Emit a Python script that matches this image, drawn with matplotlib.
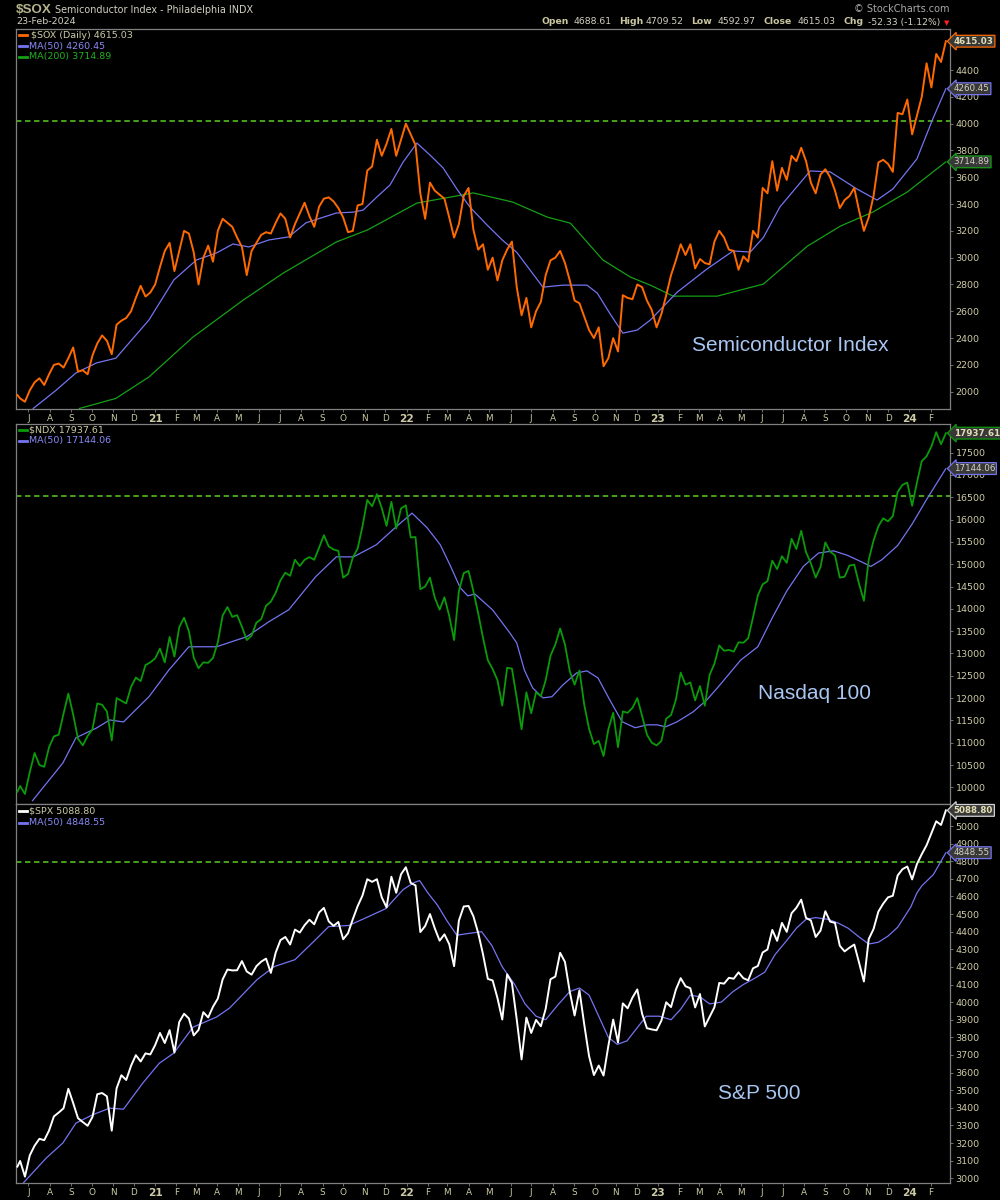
"""
StockCharts-style three-panel chart: $SOX, $NDX, $SPX with moving averages.
Weekly closes read off the reference picture, MAs read as separate points.
"""

import pandas as pd
import matplotlib
matplotlib.use('Agg')
import matplotlib.pyplot as plt
from matplotlib import rcParams

rcParams['font.family'] = 'DejaVu Sans'

TXT      = '#cdcba6'
AXC      = '#808080'
ORANGE   = '#ff6a00'
BLUE     = '#7474f2'
GREEN_MA = '#16a016'
NDX_COL  = '#0a9a0a'
DASH     = '#4cb01c'
LBL_BLUE = '#a9c6f2'

# ── Data ──────────────────────────────────────────────────────────────────────
week_dates = pd.DatetimeIndex(['2020-06-15']).append(
    pd.date_range('2020-06-19', '2024-02-23', freq='W-FRI'))

sox = [1975,
       1950, 1925, 2010, 2070, 2100, 2050, 2130, 2200, 2210, 2180,
       2250, 2330, 2150, 2160, 2130, 2270, 2360, 2420, 2380, 2280,
       2500, 2530, 2550, 2600, 2700, 2790, 2710, 2740, 2800, 2930,
       3050, 3110, 2900, 3050, 3200, 3180, 3040, 2800, 3000, 3090,
       2970, 3200, 3290, 3260, 3230, 3150, 3080, 2870, 3050, 3110,
       3170, 3190, 3180, 3260, 3330, 3290, 3150, 3250, 3330, 3410,
       3310, 3230, 3380, 3440, 3450, 3420, 3370, 3300, 3190, 3200,
       3390, 3400, 3650, 3680, 3880, 3760, 3850, 3960, 3760, 3880,
       4000, 3920, 3840, 3480, 3290, 3560, 3500, 3470, 3440, 3300,
       3150, 3250, 3460, 3520, 3210, 3060, 3100, 2910, 3000, 2830,
       2980, 3060, 3120, 2780, 2570, 2700, 2480, 2600, 2670, 2870,
       2980, 3000, 3050, 2960, 2830, 2680, 2660, 2560, 2460, 2400,
       2480, 2190, 2250, 2400, 2300, 2720, 2700, 2690, 2800, 2780,
       2680, 2610, 2480, 2580, 2720, 2870, 2980, 3100, 3020, 3100,
       2920, 2990, 2960, 2950, 3120, 3200, 3150, 3060, 3050, 2910,
       3010, 2970, 3200, 3150, 3520, 3480, 3720, 3500, 3670, 3580,
       3760, 3720, 3820, 3720, 3560, 3480, 3620, 3660, 3600, 3500,
       3370, 3430, 3460, 3520, 3350, 3200, 3300, 3460, 3710, 3730,
       3700, 3640, 4080, 4070, 4180, 3920, 4060, 4200, 4450, 4270,
       4520, 4460, 4615.03]

ndx = [9900,
       10030, 9850, 10340, 10770, 10500, 10460, 10900, 11140, 11180, 11650,
       12100, 11630, 11090, 10940, 11150, 11300, 11880, 11850, 11700, 11050,
       12000, 11940, 11880, 12250, 12460, 12380, 12740, 12800, 12890, 13110,
       12800, 13370, 12930, 13590, 13800, 13500, 12910, 12670, 12800, 12790,
       12900, 13250, 13850, 14040, 13820, 13860, 13600, 13300, 13400, 13690,
       13770, 14070, 14160, 14360, 14640, 14810, 14740, 15100, 14960, 15100,
       15160, 15100, 15370, 15650, 15400, 15330, 15300, 14700, 14780, 15150,
       15350, 15850, 16440, 16300, 16570, 16260, 15860, 16400, 15800, 16250,
       16320, 15600, 15610, 14440, 14500, 14700, 14250, 13980, 14260, 13840,
       13300, 14400, 14800, 14850, 14400, 13900, 13350, 12850, 12650, 12400,
       11830, 12680, 12660, 12000, 11300, 12130, 11660, 12130, 12040, 12400,
       12950, 13200, 13560, 13200, 12600, 12300, 12620, 11850, 11310, 10970,
       11040, 10700, 11300, 11670, 10900, 11700, 11670, 11780, 12000, 11600,
       11180, 11000, 10940, 11040, 11540, 11620, 11960, 12570, 12300, 12350,
       11950, 12270, 11830, 12520, 12770, 13180, 13060, 13080, 13040, 13250,
       13240, 13340, 13810, 14300, 14550, 14620, 15080, 14890, 15180, 15030,
       15570, 15340, 15750, 15270, 15020, 14700, 14940, 15490, 15280, 15200,
       14700, 14720, 14970, 14990, 14560, 14180, 15100, 15530, 15850, 16030,
       15960, 16080, 16620, 16780, 16830, 16310, 16830, 17310, 17420, 17640,
       17960, 17690, 17937.61]

spx = [3066,
       3098, 3009, 3130, 3185, 3224, 3216, 3271, 3351, 3373, 3397,
       3508, 3427, 3341, 3319, 3298, 3348, 3477, 3484, 3465, 3270,
       3510, 3585, 3558, 3638, 3699, 3663, 3709, 3703, 3756, 3825,
       3768, 3841, 3714, 3887, 3934, 3907, 3811, 3842, 3943, 3913,
       3974, 4020, 4129, 4185, 4180, 4181, 4233, 4174, 4156, 4204,
       4230, 4247, 4166, 4281, 4352, 4370, 4327, 4412, 4395, 4437,
       4468, 4442, 4509, 4535, 4459, 4433, 4455, 4357, 4391, 4471,
       4545, 4605, 4698, 4683, 4698, 4595, 4538, 4712, 4621, 4726,
       4766, 4677, 4663, 4398, 4432, 4500, 4419, 4349, 4385, 4329,
       4204, 4463, 4543, 4546, 4488, 4393, 4272, 4132, 4123, 4023,
       3901, 4158, 4109, 3901, 3675, 3912, 3825, 3899, 3863, 3962,
       4130, 4145, 4280, 4228, 4058, 3924, 4067, 3873, 3693, 3586,
       3640, 3583, 3752, 3901, 3771, 3993, 3965, 4026, 4072, 3934,
       3852, 3845, 3840, 3895, 3999, 3972, 4071, 4136, 4090, 4079,
       3970, 4046, 3862, 3917, 3971, 4109, 4105, 4138, 4133, 4169,
       4136, 4124, 4192, 4205, 4282, 4299, 4410, 4348, 4450, 4399,
       4505, 4536, 4582, 4478, 4464, 4370, 4406, 4516, 4457, 4450,
       4320, 4288, 4309, 4327, 4224, 4117, 4358, 4415, 4514, 4559,
       4595, 4604, 4719, 4755, 4770, 4697, 4784, 4840, 4891, 4959,
       5027, 5006, 5088.80]

# moving averages, read as separate points
sox_ma50_dates = ['2020-07-08', '2020-08-10', '2020-09-08', '2020-10-08', '2020-11-05',
                  '2020-12-23', '2021-01-28', '2021-03-02', '2021-03-31', '2021-04-24',
                  '2021-05-17', '2021-06-15', '2021-07-14', '2021-08-08', '2021-09-21',
                  '2021-10-16', '2021-10-30', '2021-11-19', '2021-12-08', '2021-12-27',
                  '2022-01-16', '2022-02-04', '2022-02-23', '2022-03-16', '2022-04-03',
                  '2022-04-28', '2022-05-20', '2022-06-10', '2022-07-18', '2022-08-16',
                  '2022-09-20', '2022-10-05', '2022-10-23', '2022-11-11', '2022-12-02',
                  '2022-12-21', '2023-01-29', '2023-03-13', '2023-04-20', '2023-05-15',
                  '2023-06-03', '2023-06-27', '2023-08-10', '2023-09-08', '2023-10-17',
                  '2023-11-15', '2023-12-08', '2024-01-12', '2024-02-04', '2024-02-23']
sox_ma50 = [1875, 2010, 2140, 2215, 2250,
            2535, 2833, 2983, 3035, 3102,
            3080, 3132, 3155, 3260, 3333,
            3340, 3355, 3453, 3542, 3713,
            3855, 3766, 3670, 3505, 3378,
            3243, 3132, 3040, 2780, 2795,
            2795, 2735, 2585, 2437, 2460,
            2535, 2743, 2915, 3050, 3042,
            3150, 3378, 3647, 3640, 3512,
            3430, 3512, 3737, 4035, 4260.45]

sox_ma200_dates = ['2020-09-13', '2020-11-05', '2020-12-23', '2021-02-25', '2021-05-09',
                   '2021-07-06', '2021-09-21', '2021-11-05', '2022-01-16', '2022-04-08',
                   '2022-06-04', '2022-07-24', '2022-08-27', '2022-10-13', '2022-11-22',
                   '2022-12-21', '2023-01-23', '2023-03-28', '2023-06-03', '2023-08-06',
                   '2023-09-23', '2023-11-09', '2023-12-29', '2024-02-23']
sox_ma200 = [1875, 1950, 2110, 2408, 2684,
             2885, 3117, 3206, 3407, 3483,
             3415, 3303, 3257, 2983, 2855,
             2795, 2713, 2713, 2803, 3086,
             3236, 3340, 3490, 3714.89]

ndx_ma50_dates = ['2020-07-07', '2020-08-20', '2020-09-08', '2020-10-08', '2020-10-27',
                  '2020-11-16', '2020-12-23', '2021-01-21', '2021-02-19', '2021-03-31',
                  '2021-05-14', '2021-06-15', '2021-07-14', '2021-08-22', '2021-09-21',
                  '2021-10-16', '2021-11-18', '2021-12-17', '2022-01-09', '2022-01-31',
                  '2022-02-19', '2022-03-05', '2022-03-20', '2022-03-31', '2022-04-10',
                  '2022-05-06', '2022-05-31', '2022-06-10', '2022-06-21', '2022-07-03',
                  '2022-07-18', '2022-07-31', '2022-08-16', '2022-09-05', '2022-09-20',
                  '2022-10-06', '2022-10-23', '2022-11-10', '2022-11-29', '2022-12-16',
                  '2022-12-31', '2023-01-12', '2023-01-29', '2023-02-21', '2023-03-13',
                  '2023-04-01', '2023-05-01', '2023-05-26', '2023-06-16', '2023-07-07',
                  '2023-07-31', '2023-08-22', '2023-09-13', '2023-10-03', '2023-10-24',
                  '2023-11-06', '2023-11-22', '2023-12-15', '2024-01-05', '2024-01-26',
                  '2024-02-23']
ndx_ma50 = [9700, 10545, 11110, 11330, 11510,
            11465, 12030, 12630, 13150, 13150,
            13375, 13710, 13980, 14720, 15165,
            15165, 15435, 15840, 16145, 15815,
            15435, 14985, 14470, 14290, 14335,
            13975, 13460, 13235, 12630, 12230,
            12005, 12030, 12295, 12565, 12610,
            12450, 11960, 11470, 11335, 11400,
            11400, 11355, 11470, 11690, 11960,
            12295, 12850, 13150, 13800, 14400,
            14950, 15250, 15300, 15200, 15050,
            14950, 15100, 15420, 15900, 16450,
            17144.06]

spx_ma50_dates = ['2020-06-24', '2020-07-27', '2020-08-20', '2020-09-08', '2020-10-02',
                  '2020-10-27', '2020-11-16', '2020-12-14', '2021-01-07', '2021-01-28',
                  '2021-02-25', '2021-03-31', '2021-04-19', '2021-05-29', '2021-06-23',
                  '2021-07-23', '2021-08-22', '2021-09-10', '2021-10-09', '2021-11-07',
                  '2021-12-02', '2021-12-27', '2022-01-12', '2022-01-20', '2022-02-01',
                  '2022-02-15', '2022-03-01', '2022-03-15', '2022-04-01', '2022-04-20',
                  '2022-05-05', '2022-05-20', '2022-06-07', '2022-06-22', '2022-07-08',
                  '2022-07-22', '2022-08-10', '2022-08-26', '2022-09-09', '2022-09-23',
                  '2022-10-07', '2022-10-21', '2022-11-03', '2022-11-17', '2022-12-01',
                  '2022-12-15', '2023-01-03', '2023-01-20', '2023-02-03', '2023-02-17',
                  '2023-03-03', '2023-03-17', '2023-04-03', '2023-04-20', '2023-05-05',
                  '2023-05-19', '2023-06-05', '2023-06-20', '2023-07-07', '2023-07-21',
                  '2023-08-04', '2023-08-18', '2023-09-05', '2023-09-19', '2023-10-04',
                  '2023-10-20', '2023-11-03', '2023-11-17', '2023-12-01', '2023-12-15',
                  '2024-01-03', '2024-01-12', '2024-01-19', '2024-02-05', '2024-02-23']
spx_ma50 = [2975, 3115, 3200, 3313, 3360,
            3398, 3392, 3540, 3653, 3710,
            3858, 3915, 3966, 4128, 4202,
            4241, 4355, 4429, 4435, 4486,
            4531, 4639, 4679, 4690, 4620,
            4550, 4460, 4380, 4390, 4400,
            4320, 4200, 4100, 3990, 3920,
            3900, 3990, 4060, 4080, 4040,
            3920, 3800, 3760, 3780, 3850,
            3920, 3920, 3900, 3960, 4040,
            4030, 3990, 4000, 4060, 4100,
            4130, 4170, 4270, 4350, 4420,
            4470, 4480, 4470, 4450, 4420,
            4370, 4330, 4340, 4375, 4425,
            4540, 4620, 4660, 4725, 4848.55]

# horizontal resistance lines (prior highs)
sox_high, ndx_high, spx_high = 4020, 16530, 4797

month_starts = pd.date_range('2020-07-01', '2024-02-01', freq='MS')
month_labels = [d.strftime('%y') if d.month == 1 else d.strftime('%b')[0]
                for d in month_starts]

XMIN, XMAX = pd.Timestamp('2020-06-13'), pd.Timestamp('2024-02-29')

# ── Figure ────────────────────────────────────────────────────────────────────
fig = plt.figure(figsize=(10, 12), dpi=100, facecolor='black')

def fx(px):
    return px / 1000.0

def fy(py):
    return 1.0 - py / 1200.0

def axes_px(top, bottom):
    return fig.add_axes([fx(16), fy(bottom), fx(950) - fx(16), (bottom - top) / 1200.0])

ax1 = axes_px(29, 409)
ax2 = axes_px(424, 804)
ax3 = axes_px(804, 1183)

def style_ax(ax, ylim, yticks, months=True):
    ax.set_facecolor('black')
    for s in ax.spines.values():
        s.set_color(AXC)
        s.set_linewidth(0.9)
    ax.set_xlim(XMIN, XMAX)
    ax.set_ylim(*ylim)
    ax.yaxis.tick_right()
    ax.set_yticks(yticks)
    ax.set_yticklabels([str(t) for t in yticks])
    ax.tick_params(axis='y', colors=AXC, labelcolor=TXT, labelsize=6.8,
                   length=2.5, width=0.6, pad=1.5)
    ax.set_xticks(month_starts)
    if months:
        ax.set_xticklabels(month_labels)
        for lbl in ax.get_xticklabels():
            if lbl.get_text().isdigit():
                lbl.set_fontweight('bold')
                lbl.set_fontsize(7.6)
            else:
                lbl.set_fontsize(6.4)
        ax.tick_params(axis='x', colors=AXC, labelcolor=TXT, length=2,
                       width=0.6, pad=1.5)
    else:
        ax.tick_params(axis='x', colors=AXC, length=2, width=0.6, labelbottom=False)

def tag(ax, v, edge, bold):
    ax.annotate(f'{v:.2f}', xy=(1.0, v), xycoords=('axes fraction', 'data'),
                xytext=(2.6, 0), textcoords='offset points', ha='left', va='center',
                fontsize=6.3, fontweight='bold' if bold else 'normal',
                color='#e2ddb2' if bold else '#d4d2c4',
                bbox=dict(boxstyle='larrow,pad=0.16', fc='#383838', ec=edge, lw=0.9),
                annotation_clip=False, zorder=20)

def legend_row(py, color, text, text_color, x_text=29):
    fig.add_artist(plt.Line2D([fx(19), fx(27)], [fy(py), fy(py)], color=color,
                              lw=2.0, transform=fig.transFigure))
    fig.text(fx(x_text), fy(py), text, color=text_color, fontsize=6.8,
             ha='left', va='center')

def big_label(px, py, text):
    fig.text(fx(px), fy(py), text, color=LBL_BLUE, fontsize=15,
             family='Liberation Sans', ha='left', va='baseline')

# ── Panel 1: $SOX ─────────────────────────────────────────────────────────────
style_ax(ax1, (1871, 4706), list(range(2000, 4401, 200)))
ax1.axhline(sox_high, color=DASH, lw=1.3, ls=(0, (3, 2)), zorder=2)
ax1.plot(pd.to_datetime(sox_ma200_dates), sox_ma200, color=GREEN_MA, lw=0.9, zorder=3)
ax1.plot(pd.to_datetime(sox_ma50_dates), sox_ma50, color=BLUE, lw=0.9, zorder=3)
ax1.plot(week_dates, sox, color=ORANGE, lw=1.4, zorder=4)
tag(ax1, sox[-1], ORANGE, True)
tag(ax1, sox_ma50[-1], BLUE, False)
tag(ax1, sox_ma200[-1], GREEN_MA, False)
legend_row(35, ORANGE, '$SOX (Daily) 4615.03', TXT, x_text=31)
legend_row(46, BLUE, 'MA(50) 4260.45', '#8a8af8')
legend_row(57, GREEN_MA, 'MA(200) 3714.89', '#1fb01f')
big_label(692, 351, 'Semiconductor Index')

# ── Panel 2: $NDX ─────────────────────────────────────────────────────────────
style_ax(ax2, (9626, 18143), list(range(10000, 17501, 500)), months=False)
ax2.axhline(ndx_high, color=DASH, lw=1.3, ls=(0, (3, 2)), zorder=2)
ax2.plot(pd.to_datetime(ndx_ma50_dates), ndx_ma50, color=BLUE, lw=0.9, zorder=3)
ax2.plot(week_dates, ndx, color=NDX_COL, lw=1.3, zorder=4)
tag(ax2, ndx[-1], NDX_COL, True)
tag(ax2, ndx_ma50[-1], BLUE, False)
legend_row(430, NDX_COL, '$NDX 17937.61', TXT)
legend_row(441, BLUE, 'MA(50) 17144.06', '#8a8af8')
big_label(758, 699, 'Nasdaq 100')

# ── Panel 3: $SPX ─────────────────────────────────────────────────────────────
style_ax(ax3, (2973, 5125), list(range(3000, 5001, 100)))
ax3.axhline(spx_high, color=DASH, lw=1.3, ls=(0, (3, 2)), zorder=2)
ax3.plot(pd.to_datetime(spx_ma50_dates), spx_ma50, color=BLUE, lw=0.9, zorder=3)
ax3.plot(week_dates, spx, color='white', lw=1.4, zorder=4)
tag(ax3, spx[-1], '#d0d0d0', True)
tag(ax3, spx_ma50[-1], BLUE, False)
legend_row(811, 'white', '$SPX 5088.80', TXT)
legend_row(823, BLUE, 'MA(50) 4848.55', '#8a8af8')
big_label(718, 1099, 'S&P 500')

# ── Header ────────────────────────────────────────────────────────────────────
fig.text(fx(16), fy(10), '$SOX', color='#b6b48c', fontsize=9.6, fontweight='bold',
         family='Liberation Sans', ha='left', va='center')
fig.text(fx(55), fy(10), 'Semiconductor Index - Philadelphia INDX', color='#d2d0c0',
         fontsize=6.9, ha='left', va='center')
fig.text(fx(16), fy(22), '23-Feb-2024', color='#d2d0c0', fontsize=6.8,
         ha='left', va='center')
fig.text(fx(950), fy(9), '\u00a9 StockCharts.com', color='#a8a8a8', fontsize=7.0,
         ha='right', va='center')

header = [(542, 'Open', True), (574, '4688.61', False), (619, 'High', True),
          (646, '4709.52', False), (691, 'Low', True), (718, '4592.97', False),
          (763, 'Close', True), (798, '4615.03', False), (843, 'Chg', True),
          (868, '-52.33 (-1.12%)', False)]
for px, s, bold in header:
    fig.text(fx(px), fy(22), s, color='#c9c6a0' if bold else '#d2d0c0', fontsize=6.7,
             fontweight='bold' if bold else 'normal', ha='left', va='center')
fig.text(fx(944), fy(23), '\u25bc', color='#ff2020', fontsize=5, ha='left', va='center')

fig.savefig('out.png', dpi=100, facecolor='black')
print('out.png OK')
